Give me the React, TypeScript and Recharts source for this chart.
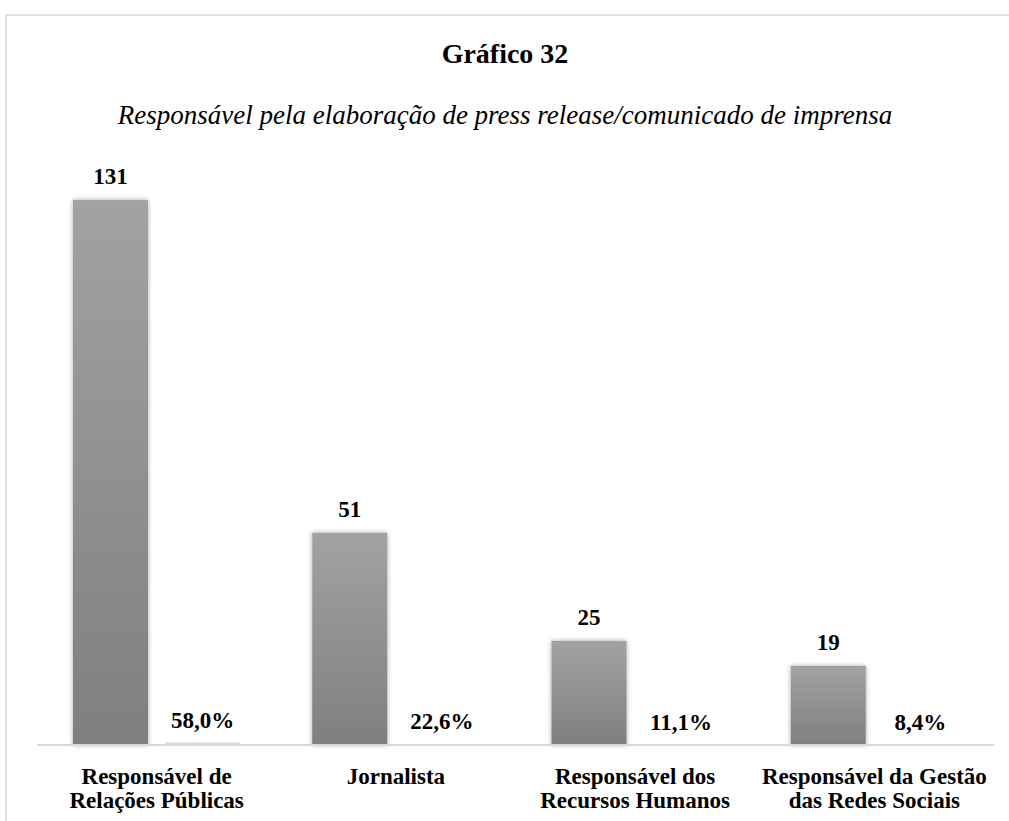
import { BarChart, Bar, XAxis, YAxis, LabelList } from 'recharts';

const categories = [
  'Responsável de\nRelações Públicas',
  'Jornalista',
  'Responsável dos\nRecursos Humanos',
  'Responsável da Gestão\ndas Redes Sociais',
];
const counts = [131, 51, 25, 19];
const percents = [58.0, 22.6, 11.1, 8.4];

const chartData = categories.map((name, i) => ({
  name,
  count: counts[i],
  // percentage drawn as a fraction, so it stays a sliver at the baseline
  share: percents[i] / 100,
  pct: percents[i],
}));

const FONT = '"Liberation Serif", Tinos, "Times New Roman", "DejaVu Serif", serif';

function CategoryTick({ x, y, payload }: any) {
  const lines = String(payload.value).split('\n');
  return (
    <text x={x} y={y} textAnchor="middle" fontFamily={FONT} fontWeight="bold" fontSize={23} fill="#000">
      {lines.map((line, i) => (
        <tspan key={i} x={x} dy={i === 0 ? 31 : 24}>
          {line}
        </tspan>
      ))}
    </text>
  );
}

function CountLabel({ x, y, width, value }: any) {
  return (
    <text x={x + width / 2} y={y - 16} textAnchor="middle" fontFamily={FONT} fontWeight="bold" fontSize={23} fill="#000">
      {value}
    </text>
  );
}

function PctLabel({ x, y, width, index }: any) {
  const label = `${percents[index].toFixed(1).replace('.', ',')}%`;
  return (
    <text x={x + width / 2} y={y - 15} textAnchor="middle" fontFamily={FONT} fontWeight="bold" fontSize={23} fill="#000">
      {label}
    </text>
  );
}

export default function App() {
  return (
    <div style={{ position: 'fixed', top: 0, left: 0, width: 1009, height: 821, background: '#fff', overflow: 'hidden' }}>
      <div
        style={{
          position: 'absolute',
          left: 5,
          top: 14,
          width: 1100,
          height: 900,
          borderTop: '2px solid #e0e0e0',
          borderLeft: '2px solid #e0e0e0',
        }}
      />
      <svg width={1009} height={150} style={{ position: 'absolute', top: 0, left: 0 }}>
        <text x={505} y={63} textAnchor="middle" fontFamily={FONT} fontWeight="bold" fontSize={28} fill="#000">
          Gráfico 32
        </text>
        <text x={505} y={124} textAnchor="middle" fontFamily={FONT} fontStyle="italic" fontSize={27} fill="#000">
          Responsável pela elaboração de press release/comunicado de imprensa
        </text>
      </svg>
      <div style={{ position: 'absolute', top: 0, left: 0 }}>
        <BarChart
          width={1009}
          height={821}
          data={chartData}
          margin={{ top: 162.6, right: 15, bottom: 0, left: 37 }}
          barCategoryGap={36}
          barGap={17}
        >
          <defs>
            <linearGradient id="barGrad" x1="0" y1="0" x2="0" y2="1">
              <stop offset="0%" stopColor="#a2a2a2" />
              <stop offset="100%" stopColor="#7f7f7f" />
            </linearGradient>
            <filter id="barShadow" x="-20%" y="-5%" width="140%" height="110%">
              <feDropShadow dx="0" dy="0" stdDeviation="2.5" floodColor="#000" floodOpacity="0.35" />
            </filter>
          </defs>
          <XAxis
            dataKey="name"
            height={76}
            tickLine={false}
            axisLine={{ stroke: '#d9d9d9', strokeWidth: 2 }}
            tick={<CategoryTick />}
            interval={0}
          />
          <YAxis hide domain={[0, 140]} />
          <Bar dataKey="count" fill="url(#barGrad)" filter="url(#barShadow)" isAnimationActive={false}>
            <LabelList dataKey="count" content={<CountLabel />} />
          </Bar>
          <Bar dataKey="share" fill="#d9d9d9" isAnimationActive={false}>
            <LabelList dataKey="pct" content={<PctLabel />} />
          </Bar>
        </BarChart>
      </div>
    </div>
  );
}
